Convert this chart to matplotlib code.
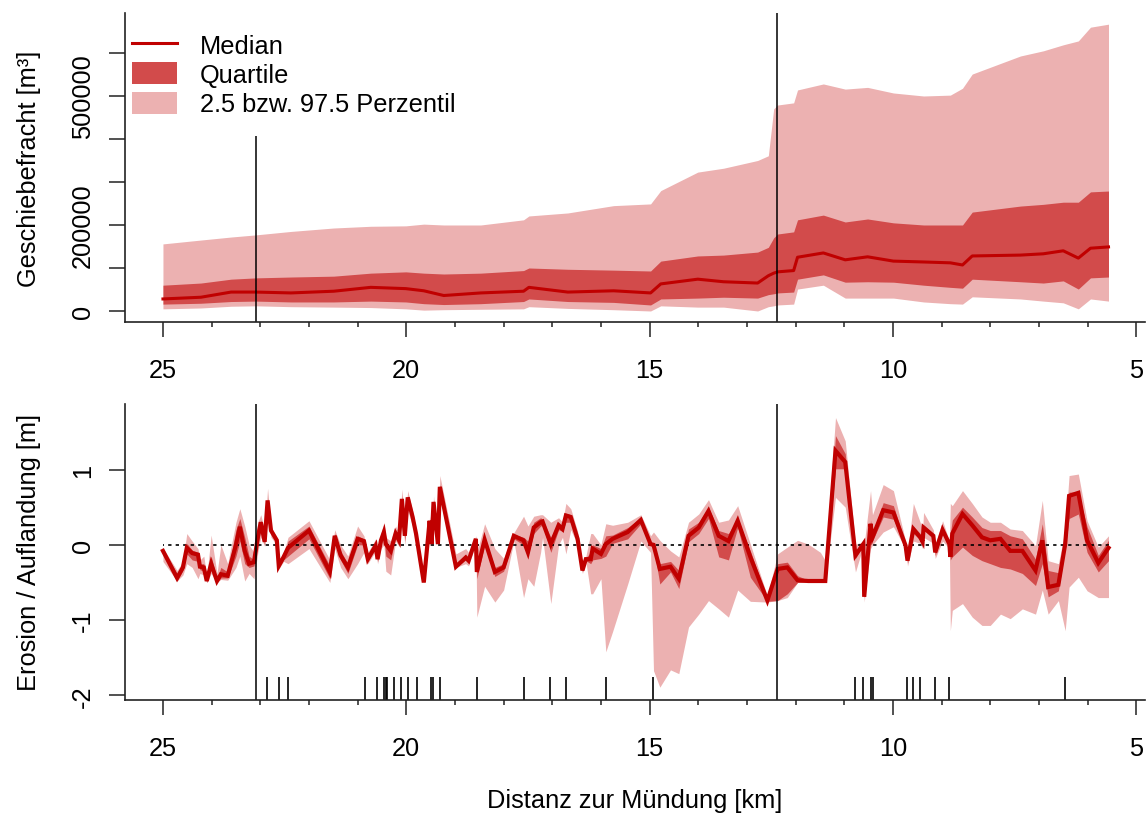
import matplotlib
matplotlib.use("Agg")
import matplotlib.pyplot as plt
from matplotlib.lines import Line2D
from matplotlib.patches import Patch
from matplotlib.ticker import MultipleLocator

plt.rcParams['font.family'] = ['Liberation Sans', 'DejaVu Sans']

MED_COL = "#C00000"
Q_COL = "#D24B4B"
P_COL = "#ECB1B1"
FS = 18.3

# top panel: bed load, values in 1000 m3
km_top = [25.00, 24.22, 23.60, 23.09, 22.37, 21.49, 20.73, 20.01, 19.64, 19.23,
          18.47, 17.59, 17.48, 16.68, 15.74, 14.98, 14.77, 14.01, 13.48, 12.78,
          12.56, 12.45, 12.37, 12.04, 11.96, 11.43, 10.98, 10.52, 9.99, 9.37,
          8.82, 8.57, 8.37, 7.38, 6.91, 6.50, 6.19, 5.94, 5.57]
top_p975 = [156, 165, 172, 177, 185, 193, 197, 198, 202, 200,
            200, 212, 221, 228, 245, 249, 280, 323, 332, 350,
            361, 470, 479, 484, 514, 528, 516, 520, 507, 500,
            502, 518, 551, 593, 605, 619, 628, 660, 667]
top_q75 = [60, 65, 74, 77, 79, 81, 88, 91, 88, 86,
           88, 94, 100, 97, 95, 93, 116, 128, 130, 137,
           148, 170, 179, 184, 212, 223, 207, 214, 205, 200,
           200, 200, 230, 244, 248, 253, 253, 277, 279]
top_med = [28, 32, 44, 44, 42, 46, 55, 52, 47, 36,
           42, 46, 55, 44, 47, 42, 63, 74, 68, 65,
           82, 88, 91, 94, 125, 135, 119, 126, 116, 114,
           112, 107, 128, 130, 133, 140, 123, 146, 149]
top_q25 = [16, 18, 22, 23, 21, 21, 23, 21, 17, 15,
           17, 22, 28, 22, 20, 14, 28, 30, 32, 30,
           38, 40, 42, 44, 74, 84, 67, 68, 67, 60,
           55, 53, 74, 68, 65, 70, 51, 77, 79]
top_p025 = [5, 7, 11, 12, 10, 9, 8, 5, 2, 3,
            4, 5, 10, 6, 3, 0, 12, 9, 9, 0,
            10, 12, 14, 16, 51, 60, 30, 30, 30, 21,
            17, 16, 33, 28, 23, 19, 5, 28, 23]

# bottom panel: erosion / deposition [m]
km_bot = [25.00, 24.71, 24.59, 24.51, 24.40, 24.28, 24.24, 24.16, 24.10, 24.01,
          23.89, 23.81, 23.67, 23.50, 23.42, 23.32, 23.23, 23.13, 23.05, 22.99,
          22.91, 22.85, 22.78, 22.66, 22.62, 22.52, 22.43, 22.00, 21.57, 21.47,
          21.35, 21.20, 21.00, 20.87, 20.79, 20.63, 20.59, 20.52, 20.46, 20.42,
          20.32, 20.22, 20.15, 20.09, 20.03, 19.97, 19.87, 19.80, 19.64, 19.52,
          19.48, 19.44, 19.35, 19.31, 18.98, 18.78, 18.72, 18.57, 18.55, 18.39,
          18.18, 18.00, 17.79, 17.59, 17.50, 17.38, 17.24, 17.20, 17.03, 16.87,
          16.79, 16.72, 16.62, 16.48, 16.38, 16.31, 16.21, 16.17, 16.00, 15.90,
          15.76, 15.45, 15.18, 14.98, 14.92, 14.79, 14.57, 14.40, 14.20, 13.99,
          13.79, 13.58, 13.38, 13.19, 12.93, 12.58, 12.37, 12.17, 11.96, 11.74,
          11.49, 11.39, 11.18, 10.98, 10.77, 10.61, 10.59, 10.46, 10.42, 10.20,
          9.99, 9.74, 9.70, 9.58, 9.44, 9.39, 9.37, 9.17, 9.13, 8.98,
          8.84, 8.82, 8.78, 8.57, 8.37, 8.17, 8.00, 7.79, 7.59, 7.34,
          7.07, 6.93, 6.81, 6.60, 6.46, 6.38, 6.19, 6.01, 5.78, 5.57]
bot_med = [-0.08, -0.44, -0.30, -0.04, -0.11, -0.13, -0.29, -0.30, -0.48, -0.25,
           -0.48, -0.39, -0.41, 0.00, 0.24, -0.08, -0.25, -0.23, 0.10, 0.30,
           0.04, 0.59, 0.19, 0.06, -0.28, -0.16, -0.04, 0.19, -0.36, 0.12,
           -0.14, -0.30, 0.08, 0.05, -0.19, -0.01, -0.19, 0.06, 0.17, 0.01,
           -0.08, 0.15, 0.06, 0.61, 0.12, 0.63, 0.37, 0.15, -0.50, 0.32,
           0.01, 0.57, 0.01, 0.77, -0.29, -0.17, -0.21, 0.08, -0.36, 0.07,
           -0.36, -0.30, 0.12, 0.06, -0.10, 0.23, 0.30, 0.31, 0.01, 0.26,
           0.21, 0.39, 0.37, 0.08, -0.34, -0.19, -0.19, -0.05, -0.12, 0.01,
           0.08, 0.17, 0.33, 0.01, 0.00, -0.32, -0.29, -0.45, 0.12, 0.23,
           0.45, 0.12, 0.05, 0.32, -0.16, -0.74, -0.32, -0.30, -0.47, -0.48,
           -0.48, -0.48, 1.25, 1.10, -0.14, 0.01, -0.69, 0.28, 0.10, 0.46,
           0.43, -0.01, -0.21, 0.21, 0.10, 0.04, 0.23, 0.12, -0.10, 0.20,
           0.01, -0.16, 0.15, 0.41, 0.26, 0.10, 0.06, 0.08, -0.08, -0.08,
           -0.34, 0.06, -0.56, -0.53, 0.01, 0.65, 0.69, 0.06, -0.24, -0.04]
bot_q75 = [-0.05, -0.38, -0.26, 0.02, -0.07, -0.10, -0.25, -0.25, -0.44, -0.15,
           -0.45, -0.30, -0.36, 0.20, 0.35, 0.10, -0.15, -0.20, 0.20, 0.33,
           0.10, 0.62, 0.22, 0.08, -0.26, -0.14, 0.05, 0.25, -0.28, 0.15,
           -0.08, -0.25, 0.12, 0.08, -0.15, 0.02, -0.15, 0.10, 0.22, 0.05,
           -0.02, 0.20, 0.10, 0.65, 0.20, 0.65, 0.40, 0.18, -0.48, 0.35,
           0.03, 0.60, 0.03, 0.80, -0.25, -0.12, -0.17, 0.10, -0.25, 0.10,
           -0.30, -0.25, 0.14, 0.10, 0.05, 0.30, 0.36, 0.34, 0.10, 0.30,
           0.25, 0.42, 0.40, 0.12, -0.32, -0.17, -0.10, 0.00, -0.05, 0.12,
           0.13, 0.23, 0.36, 0.03, 0.02, -0.25, -0.22, -0.34, 0.21, 0.30,
           0.50, 0.19, 0.15, 0.35, -0.08, -0.72, -0.25, -0.23, -0.41, -0.47,
           -0.47, -0.47, 1.45, 1.21, -0.08, 0.03, -0.66, 0.33, 0.15, 0.56,
           0.52, 0.02, -0.18, 0.25, 0.15, 0.08, 0.26, 0.15, -0.06, 0.22,
           0.03, 0.15, 0.33, 0.50, 0.37, 0.23, 0.19, 0.19, 0.12, 0.08,
           -0.19, 0.28, -0.34, -0.37, 0.10, 0.70, 0.70, 0.24, -0.14, 0.06]
bot_q25 = [-0.12, -0.48, -0.34, -0.12, -0.20, -0.22, -0.33, -0.35, -0.50, -0.30,
           -0.50, -0.44, -0.44, -0.15, 0.05, -0.25, -0.30, -0.28, 0.00, 0.20,
           0.00, 0.50, 0.15, 0.04, -0.30, -0.20, -0.15, 0.08, -0.45, 0.05,
           -0.20, -0.38, 0.00, 0.00, -0.22, -0.05, -0.22, 0.00, 0.10, -0.15,
           -0.20, 0.10, 0.02, 0.50, 0.05, 0.55, 0.30, 0.10, -0.50, 0.28,
           -0.01, 0.50, -0.01, 0.70, -0.30, -0.20, -0.24, 0.05, -0.45, 0.00,
           -0.42, -0.35, 0.08, 0.00, -0.15, 0.15, 0.25, 0.26, -0.10, 0.20,
           0.18, 0.30, 0.30, 0.05, -0.36, -0.21, -0.25, -0.20, -0.18, -0.15,
           0.02, 0.08, 0.28, -0.01, -0.02, -0.52, -0.36, -0.58, 0.04, 0.15,
           0.35, -0.16, -0.20, 0.23, -0.43, -0.75, -0.74, -0.65, -0.50, -0.49,
           -0.49, -0.49, 1.01, 1.01, -0.18, -0.01, -0.71, 0.11, 0.05, 0.37,
           0.34, -0.04, -0.24, 0.15, 0.07, 0.01, 0.20, 0.08, -0.14, 0.15,
           -0.01, -0.20, -0.16, -0.03, -0.14, -0.21, -0.25, -0.30, -0.32, -0.38,
           -0.54, -0.25, -0.69, -0.61, -0.05, 0.35, 0.41, -0.10, -0.36, -0.21]
bot_p975 = [-0.04, -0.34, -0.22, 0.15, 0.05, -0.05, -0.20, -0.15, -0.42, 0.13,
            -0.38, 0.00, -0.25, 0.30, 0.48, 0.25, 0.00, -0.10, 0.30, 0.40,
            0.20, 0.75, 0.25, 0.10, -0.24, -0.10, 0.10, 0.32, -0.20, 0.20,
            0.00, -0.15, 0.25, 0.12, -0.10, 0.08, -0.10, 0.15, 0.30, 0.10,
            0.05, 0.25, 0.15, 0.74, 0.30, 0.72, 0.45, 0.22, -0.45, 0.38,
            0.05, 0.65, 0.05, 0.92, -0.12, -0.05, -0.10, 0.12, -0.10, 0.28,
            -0.05, -0.18, 0.16, 0.38, 0.25, 0.38, 0.40, 0.40, 0.30, 0.36,
            0.30, 0.55, 0.48, 0.18, -0.30, -0.15, 0.15, 0.15, 0.00, 0.28,
            0.26, 0.30, 0.40, 0.12, 0.17, 0.06, -0.08, -0.16, 0.30, 0.41,
            0.60, 0.30, 0.33, 0.52, 0.01, -0.68, -0.12, -0.03, 0.06, 0.01,
            -0.10, -0.21, 1.69, 1.38, 0.01, 0.04, 0.01, 0.72, 0.40, 0.80,
            0.72, 0.05, -0.10, 0.55, 0.30, 0.20, 0.43, 0.20, 0.00, 0.32,
            0.05, 0.55, 0.52, 0.72, 0.55, 0.37, 0.30, 0.30, 0.21, 0.19,
            -0.01, 0.59, -0.21, -0.25, 0.20, 0.92, 0.94, 0.32, -0.03, 0.12]
bot_p025 = [-0.22, -0.48, -0.40, -0.25, -0.30, -0.45, -0.38, -0.40, -0.50, -0.38,
            -0.50, -0.46, -0.47, -0.30, -0.15, -0.48, -0.38, -0.45, -0.10, 0.10,
            -0.02, 0.45, 0.10, 0.00, -0.32, -0.22, -0.25, -0.05, -0.50, -0.05,
            -0.30, -0.45, -0.25, -0.10, -0.25, -0.08, -0.25, -0.05, 0.00, -0.35,
            -0.40, 0.05, -0.02, 0.40, 0.00, 0.45, 0.25, 0.05, -0.50, 0.25,
            -0.02, 0.45, -0.02, 0.62, -0.30, -0.25, -0.28, 0.02, -0.96, -0.55,
            -0.76, -0.60, 0.05, -0.70, -0.45, -0.55, -0.10, 0.10, -0.78, 0.00,
            0.10, -0.12, 0.20, 0.00, -0.38, -0.22, -0.65, -0.65, -0.45, -1.42,
            -1.15, -0.52, 0.05, -0.10, -1.67, -1.89, -1.66, -1.71, -1.09, -0.92,
            -0.74, -0.85, -0.96, -0.60, -0.75, -0.76, -0.74, -0.70, -0.50, -0.50,
            -0.50, -0.50, 0.63, 0.50, -0.36, -0.02, -0.76, -0.05, 0.00, 0.17,
            0.24, -0.05, -0.28, 0.05, 0.02, -0.05, 0.10, 0.02, -0.18, 0.05,
            -0.05, -1.14, -0.87, -0.78, -0.96, -1.07, -1.07, -0.92, -0.98, -0.85,
            -0.92, -0.60, -0.92, -0.74, -1.14, -0.56, -0.43, -0.61, -0.70, -0.70]

# cross sections (rug) and section borders
rug_km = [22.86, 22.62, 22.43, 20.85, 20.61, 20.46, 20.42, 20.40, 20.26, 20.11,
          19.97, 19.78, 19.50, 19.46, 19.31, 18.55, 17.59, 17.05, 16.72, 15.90,
          14.92, 10.77, 10.61, 10.46, 10.40, 9.72, 9.58, 9.44, 9.13, 8.84, 6.46]
border_km = [23.09, 12.39]

W, H = 1147, 820
fig = plt.figure(figsize=(W / 100, H / 100), dpi=100)
ax1 = fig.add_axes([125 / W, 1 - 323 / H, 1020 / W, 309 / H])
ax2 = fig.add_axes([125 / W, 1 - 701 / H, 1020 / W, 296 / H])

top_lim = (-25600, 693000)
bot_lim = (-2.06, 1.87)

# top panel
k = 1000
ax1.fill_between(km_top, [v * k for v in top_p025], [v * k for v in top_p975],
                 color=P_COL, lw=0)
ax1.fill_between(km_top, [v * k for v in top_q25], [v * k for v in top_q75],
                 color=Q_COL, lw=0)
ax1.plot(km_top, [v * k for v in top_med], color=MED_COL, lw=2.2)
ax1.vlines(border_km[0], top_lim[0], 407000, color='black', lw=1.1)
ax1.vlines(border_km[1], top_lim[0], top_lim[1], color='black', lw=1.1)
ax1.set_ylim(*top_lim)
ax1.set_yticks([0, 100000, 200000, 300000, 400000, 500000, 600000])
ax1.set_yticklabels(['0', '', '200000', '', '', '500000', ''], rotation=90, va='center')
ax1.set_ylabel("Geschiebefracht [m³]", fontsize=FS)
ax1.yaxis.set_label_coords(-0.082, 0.5)

handles = [Line2D([], [], color=MED_COL, lw=2.2), Patch(color=Q_COL, lw=0),
           Patch(color=P_COL, lw=0)]
ax1.legend(handles, ["Median", "Quartile", "2.5 bzw. 97.5 Perzentil"],
           loc='upper left', bbox_to_anchor=(0.007, 0.935), frameon=False,
           fontsize=FS, handlelength=1.77, handleheight=0.95, handletextpad=0.9,
           labelspacing=0.18, borderaxespad=0, borderpad=0)

# bottom panel
ax2.fill_between(km_bot, bot_p025, bot_p975, color=P_COL, lw=0)
ax2.fill_between(km_bot, bot_q25, bot_q75, color=Q_COL, lw=0)
ax2.hlines(0, km_bot[-1], km_bot[0], color='black', lw=1.2, linestyles=(0, (2, 2.5)))
ax2.plot(km_bot, bot_med, color=MED_COL, lw=3.0, solid_joinstyle='miter')
ax2.vlines(border_km, bot_lim[0], bot_lim[1], color='black', lw=1.1)
ax2.vlines(rug_km, bot_lim[0], -1.75, color='black', lw=1.2)
ax2.set_ylim(*bot_lim)
ax2.set_yticks([-2, -1, 0, 1])
ax2.set_yticklabels(['-2', '-1', '0', '1'], rotation=90, va='center')
ax2.set_ylabel("Erosion / Auflandung [m]", fontsize=FS)
ax2.yaxis.set_label_coords(-0.082, 0.5)
ax2.set_xlabel("Distanz zur Mündung [km]", fontsize=FS)
ax2.xaxis.set_label_coords(0.5, -0.296)

for ax in (ax1, ax2):
    ax.set_xlim(25.78, 4.82)
    ax.set_xticks([25, 20, 15, 10, 5])
    ax.xaxis.set_minor_locator(MultipleLocator(1))
    for s in ('top', 'right'):
        ax.spines[s].set_visible(False)
    for s in ('left', 'bottom'):
        ax.spines[s].set_linewidth(1.2)
        ax.spines[s].set_color('#222222')
    ax.tick_params(axis='x', which='major', length=10.8, width=1.1, pad=15,
                   labelsize=FS, color='#222222')
    ax.tick_params(axis='x', which='minor', length=3.6, width=1.1, color='#222222')
    ax.tick_params(axis='y', length=11.5, width=1.1, pad=10, labelsize=FS,
                   color='#222222')

fig.savefig("out.png", dpi=100)
